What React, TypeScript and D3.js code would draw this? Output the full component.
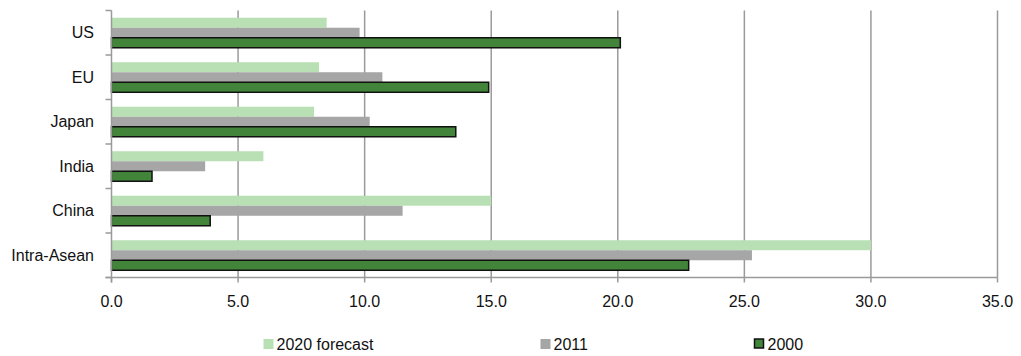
import React from "react";
import * as d3 from "d3";

const categories = ["US", "EU", "Japan", "India", "China", "Intra-Asean"];
const seriesNames = ["2020 forecast", "2011", "2000"];
const forecast2020 = [8.5, 8.2, 8.0, 6.0, 15.0, 30.0];
const values2011 = [9.8, 10.7, 10.2, 3.7, 11.5, 25.3];
const values2000 = [20.1, 14.9, 13.6, 1.6, 3.9, 22.8];
const xTicks = [0, 5, 10, 15, 20, 25, 30, 35];
const colors = ["#b9e0b4", "#a6a6a6", "#41843a"];
const strokes = ["none", "none", "#111111"];

const W = 1021;
const H = 356;
const m = { left: 111.5, right: 23.5, top: 10.5, bottom: 78.5 };

export default function App() {
  const series = [forecast2020, values2011, values2000];
  const x = d3.scaleLinear().domain([0, 35]).range([m.left, W - m.right]);
  const y = d3
    .scaleBand<string>()
    .domain(categories)
    .range([m.top, H - m.bottom])
    .paddingInner(0.325)
    .paddingOuter(0.1625);
  const inner = d3
    .scaleBand<string>()
    .domain(seriesNames)
    .range([0, y.bandwidth()]);
  const font = "'Liberation Sans', Arial, sans-serif";
  const legendX = [263.5, 540.5, 754.5];
  const axisY = H - m.bottom;
  return (
    <svg
      width={W}
      height={H}
      style={{ position: "absolute", left: 0, top: 0, background: "#fff" }}
      fontFamily={font}
    >
      {xTicks.map((t) =>
        t === 0 ? null : (
          <line
            key={"g" + t}
            x1={x(t)}
            x2={x(t)}
            y1={m.top}
            y2={axisY}
            stroke="#9a9a9a"
            strokeWidth={1.5}
          />
        )
      )}
      {categories.map((c, i) => (
        <g key={c}>
          {series.map((s, k) => (
            <rect
              key={k}
              x={x(0)}
              y={(y(c) as number) + (inner(seriesNames[k]) as number)}
              width={x(s[i]) - x(0)}
              height={inner.bandwidth()}
              fill={colors[k]}
              stroke={strokes[k]}
              strokeWidth={k === 2 ? 1.5 : 0}
            />
          ))}
          <text
            x={94}
            y={(y(c) as number) + y.bandwidth() / 2}
            textAnchor="end"
            dominantBaseline="central"
            fontSize={16}
            fill="#111"
          >
            {c}
          </text>
        </g>
      ))}
      {/* y axis */}
      <line x1={x(0)} x2={x(0)} y1={m.top} y2={axisY + 5} stroke="#9a9a9a" strokeWidth={1.5} />
      {d3.range(categories.length + 1).map((i) => {
        const yy = m.top + (i * (axisY - m.top)) / categories.length;
        return (
          <line key={"yt" + i} x1={x(0) - 6} x2={x(0)} y1={yy} y2={yy} stroke="#9a9a9a" strokeWidth={1.5} />
        );
      })}
      {/* x axis */}
      <line x1={x(0) - 6} x2={x(35)} y1={axisY} y2={axisY} stroke="#9a9a9a" strokeWidth={1.5} />
      {xTicks.map((t) => (
        <g key={"xt" + t}>
          <line x1={x(t)} x2={x(t)} y1={axisY} y2={axisY + 5} stroke="#9a9a9a" strokeWidth={1.5} />
          <text x={x(t)} y={306.5} textAnchor="middle" fontSize={16} fill="#111">
            {t.toFixed(1)}
          </text>
        </g>
      ))}
      {seriesNames.map((n, k) => (
        <g key={n}>
          <rect
            x={legendX[k]}
            y={339}
            width={k === 2 ? 9 : 10}
            height={k === 2 ? 9 : 10}
            fill={colors[k]}
            stroke={strokes[k]}
            strokeWidth={k === 2 ? 1.5 : 0}
          />
          <text x={legendX[k] + 13} y={350} fontSize={16} fill="#111">
            {n}
          </text>
        </g>
      ))}
    </svg>
  );
}
